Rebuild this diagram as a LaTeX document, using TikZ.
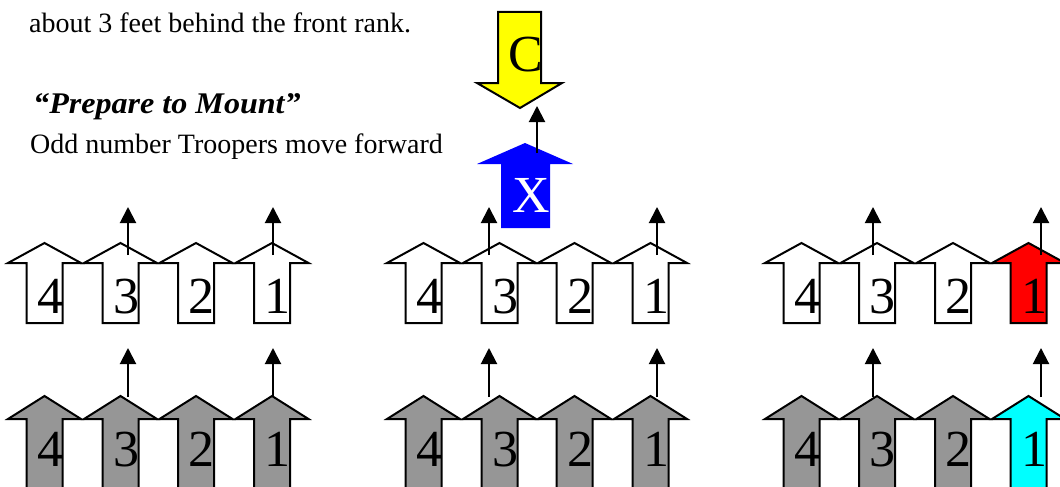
\documentclass[tikz,border=0pt]{standalone}
\usepackage{fontspec}
\setmainfont{Liberation Serif}
\usetikzlibrary{arrows.meta}
\definecolor{trgray}{HTML}{969696}
\definecolor{trcyan}{HTML}{00FFFF}
\definecolor{trred}{HTML}{FF0000}
\definecolor{tryellow}{HTML}{FFFF00}
\definecolor{trblue}{HTML}{0000FF}
\tikzset{
  blk/.style={draw=black, line width=2pt, line join=miter},
  num/.style={anchor=base, inner sep=0pt, font=\fontsize{52}{52}\selectfont},
  mv/.style={line width=2pt, -{Triangle[width=16pt,length=16pt]}},
  txt/.style={anchor=base west, inner sep=0pt, font=\fontsize{28}{34}\selectfont},
}
% name, cx, tip y, head-base y, bottom y, fill, label, label baseline
\newcommand{\trooper}[8]{%
  \path[blk, fill=#6] (#2,#3) -- ({#2+36.5},#4) -- ({#2+18},#4) -- ({#2+18},#5)
     -- ({#2-18},#5) -- ({#2-18},#4) -- ({#2-36.5},#4) -- cycle;
  \node[num] (#1) at ({#2+5.5},#8) {#7};
}
\begin{document}
\begin{tikzpicture}[x=1pt,y=-1pt]
\useasboundingbox (0,0) rectangle (1060,487);
\clip (0,0) rectangle (1060,487);
\fill[white] (0,0) rectangle (1060,487);

% texts
\node[txt] (t1) at (29,33) {about 3 feet behind the front rank.};
\node[txt, font=\fontsize{30}{34}\selectfont\bfseries\itshape] (t2) at (33,113) {\scalebox{1.07}[1]{“Prepare to Mount”}};
\node[txt] (t3) at (30,153) {Odd number Troopers move forward};

% commander C (yellow, down)
\path[blk, fill=tryellow] (498,12) -- (541,12) -- (541,83) -- (562,83) -- (520,108)
   -- (477,83) -- (498,83) -- cycle;
\node[num] (C) at (526,72) {C};

% X (blue, up)
\fill[trblue] (525,143) -- (573,164) -- (550,164) -- (550,228) -- (501,228)
   -- (501,164) -- (477,164) -- cycle;
\node[num, text=white] (X) at (531,212) {X};

\coordinate (xs) at (537,153);
\coordinate (xe) at (537,106);
\draw[mv] (xs) -- (xe);

% front rank
\trooper{a4}{44.5}{243}{263}{323}{white}{4}{313}
\trooper{a3}{120.5}{243}{263}{323}{white}{3}{313}
\trooper{a2}{196}{243}{263}{323}{white}{2}{313}
\trooper{a1}{272}{243}{263}{323}{white}{1}{313}
\trooper{b4}{423.5}{243}{263}{323}{white}{4}{313}
\trooper{b3}{499.5}{243}{263}{323}{white}{3}{313}
\trooper{b2}{574.5}{243}{263}{323}{white}{2}{313}
\trooper{b1}{650.5}{243}{263}{323}{white}{1}{313}
\trooper{c4}{801.5}{243}{263}{323}{white}{4}{313}
\trooper{c3}{877}{243}{263}{323}{white}{3}{313}
\trooper{c2}{953}{243}{263}{323}{white}{2}{313}
\trooper{c1}{1028.5}{243}{263}{323}{trred}{1}{313}

% rear rank
\trooper{d4}{44.5}{396}{419}{488}{trgray}{4}{466}
\trooper{d3}{120.5}{396}{419}{488}{trgray}{3}{466}
\trooper{d2}{196}{396}{419}{488}{trgray}{2}{466}
\trooper{d1}{272}{396}{419}{488}{trgray}{1}{466}
\trooper{e4}{423.5}{396}{419}{488}{trgray}{4}{466}
\trooper{e3}{499.5}{396}{419}{488}{trgray}{3}{466}
\trooper{e2}{574.5}{396}{419}{488}{trgray}{2}{466}
\trooper{e1}{650.5}{396}{419}{488}{trgray}{1}{466}
\trooper{f4}{801.5}{396}{419}{488}{trgray}{4}{466}
\trooper{f3}{877}{396}{419}{488}{trgray}{3}{466}
\trooper{f2}{953}{396}{419}{488}{trgray}{2}{466}
\trooper{f1}{1028.5}{396}{419}{488}{trcyan}{1}{466}

% movement arrows
\foreach \n/\x in {p1/128,p2/273,p3/489,p4/657,p5/873,p6/1041}{
  \coordinate (\n s) at (\x,255);
  \coordinate (\n e) at (\x,207);
  \draw[mv] (\n s) -- (\n e);
  \coordinate (\n S) at (\x,397);
  \coordinate (\n E) at (\x,348);
  \draw[mv] (\n S) -- (\n E);
}
\end{tikzpicture}
\end{document}
